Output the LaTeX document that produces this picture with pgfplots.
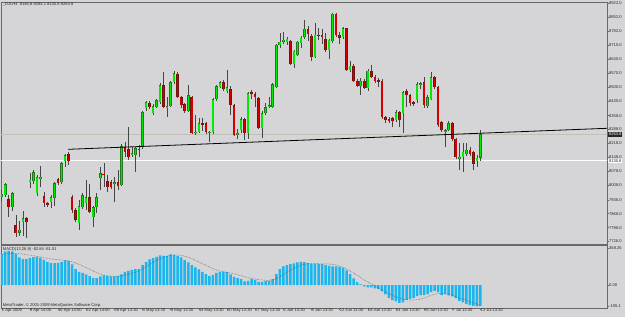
\documentclass[border=0pt]{standalone}
\usepackage{pgfplots}
\pgfplotsset{compat=1.18}
\usepackage{pgfplotstable}
\usepackage{fontspec}
\setmainfont{Liberation Sans}
\definecolor{bg}{RGB}{213,213,215}
\definecolor{bull}{RGB}{0,235,0}
\definecolor{bullE}{RGB}{30,120,30}
\definecolor{bear}{RGB}{215,0,0}
\definecolor{bearE}{RGB}{120,15,15}
\definecolor{wick}{RGB}{70,70,70}
\definecolor{macd}{RGB}{25,182,240}
\definecolor{frame}{RGB}{105,105,105}
\definecolor{bidline}{RGB}{192,192,182}
\newcommand{\tf}{\fontsize{4.1}{5}\selectfont}

\pgfplotstableread{
i o h l c
0 7950 7985 7930 7965
1 7958 8020 7950 8013
2 7938 7960 7847 7898
3 7898 7975 7880 7968
4 7808 7858 7748 7768
5 7770 7830 7755 7783
6 7822 7878 7753 7843
7 7843 7848 7742 7822
8 8028 8068 7993 8036
9 8028 8083 8013 8073
10 7968 8058 7953 8048
11 8045 8103 7998 8050
12 7953 7973 7898 7918
13 7920 7925 7898 7910
14 7923 7958 7893 7948
15 7943 8023 7903 8018
16 8038 8045 8010 8018
17 8023 8125 8015 8119
18 8129 8165 8100 8159
19 8164 8174 8109 8129
20 7948 7960 7870 7883
21 7883 7895 7825 7833
22 7818 7933 7783 7903
23 7898 7968 7888 7958
24 7918 8033 7883 7948
25 7948 8013 7868 7873
26 7848 7905 7798 7898
27 7898 7968 7868 7948
28 8043 8098 7983 8068
29 8066 8119 7999 8064
30 8028 8058 7973 7998
31 8023 8035 7990 7998
32 8018 8048 7923 8023
33 8023 8083 7983 8003
34 8008 8214 8003 8204
35 8199 8224 8149 8174
36 8189 8300 8134 8149
37 8159 8199 8149 8169
38 8159 8199 8074 8194
39 8192 8209 8150 8188
40 8199 8380 8190 8375
41 8395 8430 8380 8425
42 8420 8430 8390 8400
43 8370 8415 8360 8405
44 8400 8440 8395 8435
45 8425 8520 8415 8510
46 8510 8575 8395 8400
47 8400 8450 8350 8405
48 8405 8530 8400 8525
49 8525 8580 8515 8570
50 8567 8575 8445 8450
51 8450 8455 8395 8410
52 8415 8420 8370 8380
53 8380 8510 8375 8460
54 8450 8455 8265 8270
55 8272 8360 8262 8276
56 8275 8345 8270 8320
57 8320 8345 8280 8310
58 8320 8325 8268 8275
59 8272 8280 8224 8275
60 8275 8445 8265 8440
61 8440 8510 8430 8505
62 8500 8530 8495 8525
63 8525 8535 8480 8490
64 8480 8587 8470 8500
65 8490 8505 8360 8410
66 8410 8415 8255 8260
67 8262 8290 8240 8272
68 8285 8350 8270 8340
69 8340 8345 8235 8270
70 8270 8475 8240 8470
71 8478 8485 8440 8465
72 8465 8475 8400 8450
73 8445 8450 8290 8295
74 8295 8380 8245 8370
75 8370 8420 8360 8400
76 8400 8450 8395 8410
77 8400 8520 8395 8515
78 8500 8720 8495 8712
79 8712 8772 8700 8727
80 8727 8777 8720 8737
81 8727 8755 8715 8742
82 8732 8737 8610 8617
83 8617 8690 8597 8682
84 8662 8735 8655 8727
85 8722 8760 8700 8747
86 8752 8838 8745 8792
87 8792 8810 8735 8767
88 8757 8770 8630 8652
89 8652 8822 8645 8762
90 8762 8797 8740 8760
91 8762 8795 8720 8752
92 8742 8775 8680 8687
93 8687 8745 8640 8737
94 8732 8875 8725 8868
95 8868 8875 8755 8762
96 8762 8780 8720 8750
97 8752 8805 8745 8797
98 8797 8800 8580 8587
99 8587 8630 8575 8607
100 8607 8615 8525 8532
101 8532 8540 8500 8505
102 8505 8545 8460 8532
103 8532 8540 8490 8497
104 8497 8592 8480 8582
105 8582 8612 8545 8552
106 8552 8560 8520 8532
107 8535 8545 8500 8530
108 8532 8540 8340 8350
109 8350 8355 8320 8335
110 8340 8350 8320 8335
111 8345 8350 8300 8330
112 8335 8385 8325 8375
113 8375 8380 8300 8335
114 8370 8480 8270 8475
115 8480 8490 8400 8460
116 8460 8465 8405 8420
117 8425 8430 8405 8415
118 8435 8525 8420 8515
119 8512 8528 8490 8520
120 8525 8550 8395 8410
121 8405 8460 8395 8450
122 8440 8576 8435 8550
123 8550 8555 8490 8500
124 8500 8505 8300 8310
125 8325 8330 8275 8285
126 8275 8290 8199 8285
127 8285 8330 8280 8320
128 8320 8325 8230 8240
129 8240 8245 8140 8150
130 8145 8220 8084 8150
131 8150 8220 8074 8175
132 8165 8220 8155 8185
133 8185 8200 8155 8165
134 8175 8180 8084 8115
135 8130 8160 8100 8147
136 8146.8 8284.1 8130.8 8263.8
}\ohlc

\pgfplotstableread{
i h s
0 124 124
1 135 124
2 137 125
3 135 127
4 124 127
5 111 125
6 104 124
7 104 121
8 108 120
9 112 117
10 113 115
11 109 112
12 101 109
13 93 107
14 88 104
15 88 103
16 88 101
17 93 100
18 99 99
19 96 97
20 83 93
21 64 88
22 53 83
23 49 76
24 43 69
25 36 63
26 28 56
27 28 49
28 35 44
29 39 40
30 36 37
31 35 36
32 35 35
33 36 35
34 43 36
35 53 39
36 57 43
37 61 47
38 64 51
39 64 56
40 80 64
41 93 72
42 103 83
43 108 91
44 113 99
45 119 105
46 117 111
47 117 115
48 123 119
49 121 120
50 116 120
51 111 119
52 100 115
53 91 111
54 80 105
55 71 99
56 63 92
57 53 85
58 44 79
59 36 72
60 41 65
61 49 60
62 53 56
63 53 53
64 52 51
65 43 48
66 33 45
67 28 41
68 24 37
69 15 33
70 17 29
71 24 27
72 21 24
73 13 21
74 13 20
75 16 19
76 17 19
77 24 20
78 44 25
79 64 32
80 75 41
81 80 51
82 84 59
83 87 67
84 91 73
85 93 79
86 92 83
87 88 85
88 85 87
89 85 87
90 85 85
91 84 85
92 80 85
93 77 84
94 75 83
95 75 80
96 72 76
97 69 71
98 59 64
99 44 56
100 27 48
101 12 39
102 3 29
103 -5 20
104 -9 12
105 -9 4
106 -13 -3
107 -16 -11
108 -25 -19
109 -37 -27
110 -51 -35
111 -60 -41
112 -65 -47
113 -71 -52
114 -69 -56
115 -59 -59
116 -55 -60
117 -51 -60
118 -44 -59
119 -40 -56
120 -40 -52
121 -36 -47
122 -27 -41
123 -23 -37
124 -29 -35
125 -40 -33
126 -36 -35
127 -41 -37
128 -45 -41
129 -52 -47
130 -63 -52
131 -69 -57
132 -76 -61
133 -80 -67
134 -83 -72
135 -85 -77
136 -83 -81.5
}\macdtab

\pgfplotsset{
  body/.style 2 args={draw=none, mark=none, forget plot,
    error bars/.cd, y dir=both, y explicit, error mark=none,
    error bar style={draw=#1, line width=#2}},
  mtaxis/.style={scale only axis, width=606bp,
    xmin=-0.199, xmax=171.96,
    axis line style={frame, line width=0.7bp},
    tick align=outside, major tick length=2bp,
    tick style={frame, line width=0.4bp},
    ytick pos=right, yticklabel pos=right,
    yticklabel style={font=\tf, text=black!85, anchor=west, inner sep=0pt},
  },
}

\begin{document}
\begin{tikzpicture}
\fill[bg] (0bp,0bp) rectangle (625bp,317bp);
\useasboundingbox (0bp,0bp) rectangle (625bp,317bp);

\begin{axis}[mtaxis, at={(1bp,73bp)}, anchor=south west, height=242bp,
  ymin=7713.7, ymax=8928.5, xtick=\empty,
  ytick={7726,7796,7866,7936,8008,8078,8148,8218,8288,8358,8430,8500,8570,8640,8710,8782,8852,8922},
  yticklabels={7726.0,7796.0,7866.0,7936.0,8008.0,8078.0,8148.0,8218.0,8288.0,8358.0,8430.0,8500.0,8570.0,8640.0,8710.0,8782.0,8852.0,8922.0},
]
\addplot[bidline, line width=0.4bp, forget plot] coordinates {(-1,8263.8) (175,8263.8)};
\addplot[white, line width=0.9bp, forget plot] coordinates {(-1,8130.8) (175,8130.8)};
% wicks
\addplot[body={wick}{0.5bp}] table[x=i, y expr={(\thisrow{h}+\thisrow{l})/2}, y error expr={(\thisrow{h}-\thisrow{l})/2}] {\ohlc};
% bull bodies
\addplot[restrict expr to domain={\thisrow{c}-\thisrow{o}}{0:100000}, body={bullE}{2.6bp}]
  table[x=i, y expr={(\thisrow{o}+\thisrow{c})/2}, y error expr={max(abs(\thisrow{c}-\thisrow{o})/2,2.5)}] {\ohlc};
\addplot[restrict expr to domain={\thisrow{c}-\thisrow{o}}{0:100000}, body={bull}{1.5bp}]
  table[x=i, y expr={(\thisrow{o}+\thisrow{c})/2}, y error expr={max(abs(\thisrow{c}-\thisrow{o})/2-1.5,1)}] {\ohlc};
% bear bodies
\addplot[restrict expr to domain={\thisrow{c}-\thisrow{o}}{-100000:-0.01}, body={bearE}{2.6bp}]
  table[x=i, y expr={(\thisrow{o}+\thisrow{c})/2}, y error expr={max(abs(\thisrow{c}-\thisrow{o})/2,2.5)}] {\ohlc};
\addplot[restrict expr to domain={\thisrow{c}-\thisrow{o}}{-100000:-0.01}, body={bear}{1.5bp}]
  table[x=i, y expr={(\thisrow{o}+\thisrow{c})/2}, y error expr={max(abs(\thisrow{c}-\thisrow{o})/2-1.5,1)}] {\ohlc};
% trend line
\addplot[black, line width=0.8bp, forget plot] coordinates {(18.9,8189) (175,8296.6)};
\end{axis}

\begin{axis}[mtaxis, at={(1bp,9bp)}, anchor=south west, height=63bp,
  ymin=-92, ymax=160,
  ytick={-84,0,148}, yticklabels={-105.1,0.00,368.26},
  xtick={0,8,...,136}, xtick pos=bottom, xticklabel pos=bottom,
  xticklabels={1 Apr 2009,9 Apr 14:00,16 Apr 14:00,22 Apr 14:00,28 Apr 13:30,4 May 13:30,8 May 13:30,14 May 13:30,20 May 13:30,27 May 13:30,2 Jun 13:30,8 Jun 13:30,12 Jun 13:30,18 Jun 13:30,24 Jun 13:30,30 Jun 13:30,7 Jul 13:30,13 Jul 13:30},
  xticklabel style={font=\tf, text=black!85, anchor=north west, inner sep=0pt, yshift=1.5bp},
]
\addplot[ybar, bar width=2.5bp, fill=macd, draw=none] table[x=i, y=h] {\macdtab};
\addplot[densely dotted, line width=0.5bp, black!70] table[x=i, y=s] {\macdtab};
\end{axis}

\node[anchor=west, inner sep=0pt, font=\tf, text=black!85] at (2.7bp,313bp) {\_DJI,H4\ \ 8146.8 8284.1 8130.8 8263.8};
\node[anchor=west, inner sep=0pt, font=\tf, text=black!85] at (2.7bp,68bp) {MACD(12,26,9) -82.84 -81.51};
\node[anchor=west, inner sep=0pt, font=\tf, text=black!85] at (2.7bp,11.7bp) {MetaTrader, © 2001-2009 MetaQuotes Software Corp.};
\node[anchor=west, fill=black!85, text=white, inner xsep=0.8bp, inner ysep=0.8bp, font=\tf] at (608bp,182.6bp) {8263.8};
\node[anchor=west, fill=white, text=black!85, inner xsep=0.8bp, inner ysep=0.8bp, font=\tf] at (608bp,156.1bp) {8130.8};
\end{tikzpicture}
\end{document}
